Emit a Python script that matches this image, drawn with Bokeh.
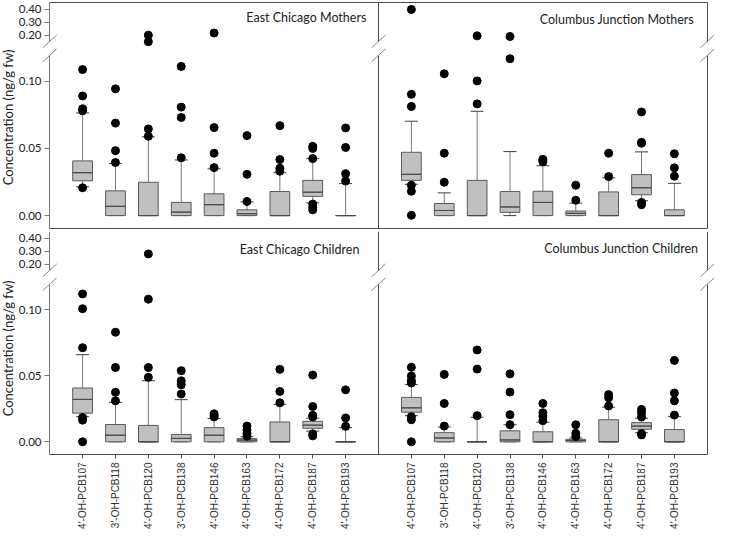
import math
from bokeh.plotting import figure
from bokeh.layouts import row, column
from bokeh.models import (Range1d, FixedTicker, LinearAxis, Label,
                          ColumnDataSource, PrintfTickFormatter, Whisker, TeeHead)
from bokeh.core.properties import value
from bokeh.embed import file_html
from bokeh.resources import INLINE

# ---------------- data ----------------
compounds = ["4'-OH-PCB107", "3'-OH-PCB118", "4'-OH-PCB120", "3'-OH-PCB138",
             "4'-OH-PCB146", "4'-OH-PCB163", "4'-OH-PCB172", "4'-OH-PCB187",
             "4'-OH-PCB193"]
y_title = "Concentration (ng/g fw)"
lower_ticks = [0.00, 0.05, 0.10]
upper_ticks = [0.20, 0.30, 0.40]

# East Chicago Mothers
ecm_title = "East Chicago Mothers"
ecm_q1 = [0.0259, 0, 0, 0, 0, 0, 0, 0.0143, 0]
ecm_med = [0.0319, 0.0069, 0, 0.0026, 0.0081, 0.0014, 0, 0.0174, 0]
ecm_q3 = [0.0407, 0.0184, 0.0248, 0.0098, 0.0162, 0.0043, 0.0179, 0.0262, 0]
ecm_lo = [0.0214, 0, 0, 0, 0, 0, 0, 0.0095, 0]
ecm_hi = [0.0764, 0.0388, 0.0586, 0.0414, 0.0348, 0.0102, 0.0319, 0.0424, 0.0238]
ecm_out = [[0.0207, 0.0780, 0.0795, 0.0890, 0.1086],
           [0.0395, 0.0483, 0.0688, 0.0943],
           [0.0590, 0.0645, 0.150, 0.200],
           [0.0430, 0.0730, 0.0807, 0.1110],
           [0.0357, 0.0464, 0.0655, 0.217],
           [0.0105, 0.0307, 0.0595],
           [0.0330, 0.0352, 0.0417, 0.0669],
           [0.0043, 0.0062, 0.0086, 0.0424, 0.0500, 0.0515],
           [0.0257, 0.0312, 0.0507, 0.0652]]

# Columbus Junction Mothers
cjm_title = "Columbus Junction Mothers"
cjm_q1 = [0.0262, 0, 0, 0.0024, 0, 0, 0, 0.0155, 0]
cjm_med = [0.0307, 0.0038, 0, 0.0064, 0.0098, 0.0017, 0, 0.0207, 0]
cjm_q3 = [0.0471, 0.0090, 0.0262, 0.0179, 0.0181, 0.0034, 0.0176, 0.0305, 0.0043]
cjm_lo = [0.0233, 0, 0, 0, 0, 0, 0, 0.0110, 0]
cjm_hi = [0.0702, 0.0169, 0.0776, 0.0476, 0.0371, 0.0093, 0.0281, 0.0474, 0.0240]
cjm_out = [[0.0002, 0.0181, 0.0226, 0.0812, 0.0902, 0.398],
           [0.0248, 0.0464, 0.1055],
           [0.0831, 0.1002, 0.195],
           [0.1167, 0.190],
           [0.0400, 0.0412, 0.0419],
           [0.0114, 0.0226],
           [0.0290, 0.0464],
           [0.0081, 0.0098, 0.0538, 0.0545, 0.0771],
           [0.0293, 0.0355, 0.0460]]

# East Chicago Children
ecc_title = "East Chicago Children"
ecc_q1 = [0.0217, 0, 0, 0, 0, 0, 0, 0.0102, 0]
ecc_med = [0.0321, 0.0050, 0, 0.0026, 0.0050, 0.0013, 0, 0.0126, 0]
ecc_q3 = [0.0407, 0.0131, 0.0124, 0.0055, 0.0107, 0.0024, 0.0150, 0.0155, 0]
ecc_lo = [0.0190, 0, 0, 0, 0, 0, 0, 0.0081, 0]
ecc_hi = [0.0659, 0.0298, 0.0462, 0.0319, 0.0176, 0.0038, 0.0283, 0.0179, 0.0107]
ecc_out = [[0.0, 0.0164, 0.0183, 0.0712, 0.1007, 0.1119],
           [0.0310, 0.0374, 0.0562, 0.0829],
           [0.0488, 0.0562, 0.1079, 0.279],
           [0.0362, 0.0431, 0.0462, 0.0538],
           [0.0188, 0.0200, 0.0212],
           [0.0043, 0.0064, 0.0088, 0.0119],
           [0.0295, 0.0381, 0.0548],
           [0.0045, 0.0060, 0.0188, 0.0200, 0.0267, 0.0505],
           [0.0117, 0.0181, 0.0393]]

# Columbus Junction Children
cjc_title = "Columbus Junction Children"
cjc_q1 = [0.0224, 0, 0, 0, 0, 0, 0, 0.0095, 0]
cjc_med = [0.0257, 0.0029, 0, 0.0014, 0, 0.0010, 0, 0.0119, 0]
cjc_q3 = [0.0336, 0.0069, 0, 0.0083, 0.0076, 0.0019, 0.0167, 0.0145, 0.0093]
cjc_lo = [0.0198, 0, 0, 0, 0, 0, 0, 0.0069, 0]
cjc_hi = [0.0433, 0.0112, 0.0186, 0.0129, 0.0148, 0.0029, 0.0262, 0.0179, 0.0190]
cjc_out = [[0.0, 0.0167, 0.0190, 0.0445, 0.0464, 0.0498, 0.0564],
           [0.0119, 0.0290, 0.0510],
           [0.0198, 0.0550, 0.0695],
           [0.0130, 0.0205, 0.0376, 0.0514],
           [0.0160, 0.0195, 0.0220, 0.0290],
           [0.0040, 0.0064, 0.0129],
           [0.0271, 0.0333, 0.0357],
           [0.0052, 0.0062, 0.0188, 0.0220, 0.0245],
           [0.0202, 0.0310, 0.0369, 0.0616]]

# ---------------- layout / style ----------------
FONT = "Lato"
XFONT = "Liberation Sans"
TXT = "#222222"
LINE = "#4d4d4d"
AXL = "#7a7a7a"
BREAK = "#8c8c8c"
BOX_FILL = "#c0c0c0"
BOX_LINE = "#5a5a5a"
MED = "#4a4a4a"
WHISK = "#7a7a7a"
CAP = "#3f3f3f"

# value ranges of the two segments of the broken axis and where the axis lines stop
UPPER = (0.0977, 0.4515)
UPPER_AXIS_END = 0.1523
LOWER = (-0.0096, 0.1243)
LOWER_AXIS_END = 0.1192
SPLIT = 0.13
X_MIN, X_MAX = 0, 20
PADU = 0.25
OFFSETS = [1, 11]          # first category position of left / right panel
DIVIDER = 10

TITLE_W = 15
LEFT_B = 26
FRAME_W = 672
W = LEFT_B + FRAME_W + 2
UP_FRAME = 46
LO_FRAME = 180
XLAB_H = 74

H_TOP_UP = 2 + UP_FRAME
H_TOP_LO = LO_FRAME + 2
H_BOT_UP = 1 + UP_FRAME
H_BOT_LO = LO_FRAME + XLAB_H
TOTAL_H = H_TOP_UP + H_TOP_LO + H_BOT_UP + H_BOT_LO

unit_px = FRAME_W / (X_MAX - X_MIN + 2 * PADU)
BR_DX = 7 / unit_px
BR_DY_UP = 6.5 * (UPPER[1] - UPPER[0]) / UP_FRAME
BR_DY_LO = 6.5 * (LOWER[1] - LOWER[0]) / LO_FRAME

title_pos = [[(9.63, 0.338), (19.6, 0.322)], [(9.42, 0.310), (19.73, 0.322)]]

panels = [
    [(ecm_title, ecm_q1, ecm_med, ecm_q3, ecm_lo, ecm_hi, ecm_out),
     (cjm_title, cjm_q1, cjm_med, cjm_q3, cjm_lo, cjm_hi, cjm_out)],
    [(ecc_title, ecc_q1, ecc_med, ecc_q3, ecc_lo, ecc_hi, ecc_out),
     (cjc_title, cjc_q1, cjc_med, cjc_q3, cjc_lo, cjc_hi, cjc_out)],
]


def new_fig(height, yr, mb_top, mb_bottom):
    p = figure(width=W, height=height, x_range=Range1d(X_MIN - PADU, X_MAX + PADU),
               y_range=Range1d(*yr), output_backend="svg", toolbar_location=None,
               x_axis_location=None, y_axis_location=None,
               min_border_left=LEFT_B, min_border_right=0,
               min_border_top=mb_top, min_border_bottom=mb_bottom,
               outline_line_color=None)
    p.grid.visible = False
    return p


def line_axis(p, side, bounds, loc=None, color=LINE, ticks=(), tick_out=0):
    a = LinearAxis(ticker=FixedTicker(ticks=list(ticks)), major_tick_out=tick_out, major_tick_in=0,
                   major_label_standoff=0, minor_tick_line_color=None,
                   major_tick_line_color=color if ticks else None, axis_line_color=color,
                   major_label_text_font_size="0px", major_label_text_color=None,
                   major_label_text_alpha=0, bounds=bounds)
    if loc is not None:
        a.fixed_location = loc
    p.add_layout(a, side)


def y_axis(p, ticks, bounds):
    # tick labels at the frame edge ...
    a = LinearAxis(ticker=FixedTicker(ticks=ticks), formatter=PrintfTickFormatter(format="%.2f"),
                   major_tick_out=0, major_tick_in=0, minor_tick_line_color=None,
                   axis_line_color=None, major_tick_line_color=None,
                   major_label_standoff=0, major_label_text_font=FONT,
                   major_label_text_font_size="11.5px", major_label_text_color=TXT)
    p.add_layout(a, "left")
    # ... and the broken axis line with its ticks at x = X_MIN
    line_axis(p, "left", bounds, X_MIN, AXL, ticks, 5)


def breaks(p, yc, dy):
    xs = [X_MIN, DIVIDER, X_MAX]
    p.segment(x0=[x - BR_DX for x in xs], y0=[yc - dy] * 3,
              x1=[x + BR_DX for x in xs], y1=[yc + dy] * 3,
              line_color=BREAK, line_width=1)


figs = []
for r, row_panels in enumerate(panels):
    up = new_fig(H_TOP_UP if r == 0 else H_BOT_UP, UPPER, 2 if r == 0 else 1, 0)
    lo = new_fig(H_TOP_LO if r == 0 else H_BOT_LO, LOWER, 0, 2 if r == 0 else XLAB_H)
    ub = (UPPER_AXIS_END, UPPER[1])
    lb = (LOWER[0], LOWER_AXIS_END)
    y_axis(up, upper_ticks, ub)
    y_axis(lo, lower_ticks, lb)
    for p, b in ((up, ub), (lo, lb)):
        line_axis(p, "right", b, DIVIDER)
        line_axis(p, "right", b, X_MAX)
    if r == 0:
        line_axis(up, "above", (X_MIN, X_MAX))
        line_axis(lo, "below", (X_MIN, X_MAX))
    else:
        ticks = [OFFSETS[k] + i for k in range(2) for i in range(len(compounds))]
        labels = {OFFSETS[k] + i: compounds[i] for k in range(2) for i in range(len(compounds))}
        xa = LinearAxis(ticker=FixedTicker(ticks=ticks), major_label_overrides=labels,
                        major_label_orientation=math.pi / 2, major_tick_out=4, major_tick_in=0,
                        minor_tick_line_color=None, axis_line_color=LINE,
                        major_tick_line_color=LINE, major_label_standoff=4,
                        major_label_text_font=XFONT, major_label_text_font_size="10px",
                        major_label_text_color="#333333", bounds=(X_MIN, X_MAX))
        lo.add_layout(xa, "below")
    breaks(up, UPPER_AXIS_END, BR_DY_UP)
    breaks(lo, LOWER_AXIS_END, BR_DY_LO)

    for k, (title, q1, med, q3, lwr, hi, out) in enumerate(row_panels):
        xs = [OFFSETS[k] + i for i in range(len(compounds))]
        src = ColumnDataSource(dict(x=xs, q1=q1, med=med, q3=q3, lo=lwr, hi=hi))
        lo.add_layout(Whisker(source=src, base="x", lower="q3", upper="hi", dimension="height",
                              line_color=WHISK, line_width=1, lower_head=None,
                              upper_head=TeeHead(size=13, line_color=CAP, line_width=1)))
        lo.add_layout(Whisker(source=src, base="x", lower="lo", upper="q1", dimension="height",
                              line_color=WHISK, line_width=1, upper_head=None,
                              lower_head=TeeHead(size=13, line_color=CAP, line_width=1)))
        lo.vbar(x="x", width=0.6, bottom="q1", top="q3", source=src,
                fill_color=BOX_FILL, line_color=BOX_LINE, line_width=1)
        lo.vbar(x="x", width=0.6, bottom="med", top="med", source=src,
                fill_color=None, line_color=MED, line_width=1)
        ox_lo, oy_lo, ox_up, oy_up = [], [], [], []
        for i, vals in enumerate(out):
            for v in vals:
                if v > SPLIT:
                    ox_up.append(xs[i]); oy_up.append(v)
                else:
                    ox_lo.append(xs[i]); oy_lo.append(v)
        lo.scatter(ox_lo, oy_lo, size=8, color="black")
        up.scatter(ox_up, oy_up, size=8, color="black")
        tx, ty = title_pos[r][k]
        up.add_layout(Label(x=tx, y=ty, text=title, text_align="right", text_baseline="middle",
                            text_font=FONT, text_font_size="12.5px", text_color=TXT))
    figs += [up, lo]

tf = figure(width=TITLE_W, height=TOTAL_H, x_range=Range1d(0, TITLE_W), y_range=Range1d(TOTAL_H, 0),
            output_backend="svg", toolbar_location=None, min_border=0, outline_line_color=None,
            x_axis_location=None, y_axis_location=None)
tf.grid.visible = False
tf.text(x=[7.5, 7.5], y=[117, 348], text=[y_title, y_title], angle=math.pi / 2,
        text_align="center", text_baseline="middle", text_font=value(FONT),
        text_font_size="13px", text_color=TXT)

layout = row(tf, column(*figs, spacing=0), spacing=0)
open("out.html", "w").write(file_html(layout, INLINE))
